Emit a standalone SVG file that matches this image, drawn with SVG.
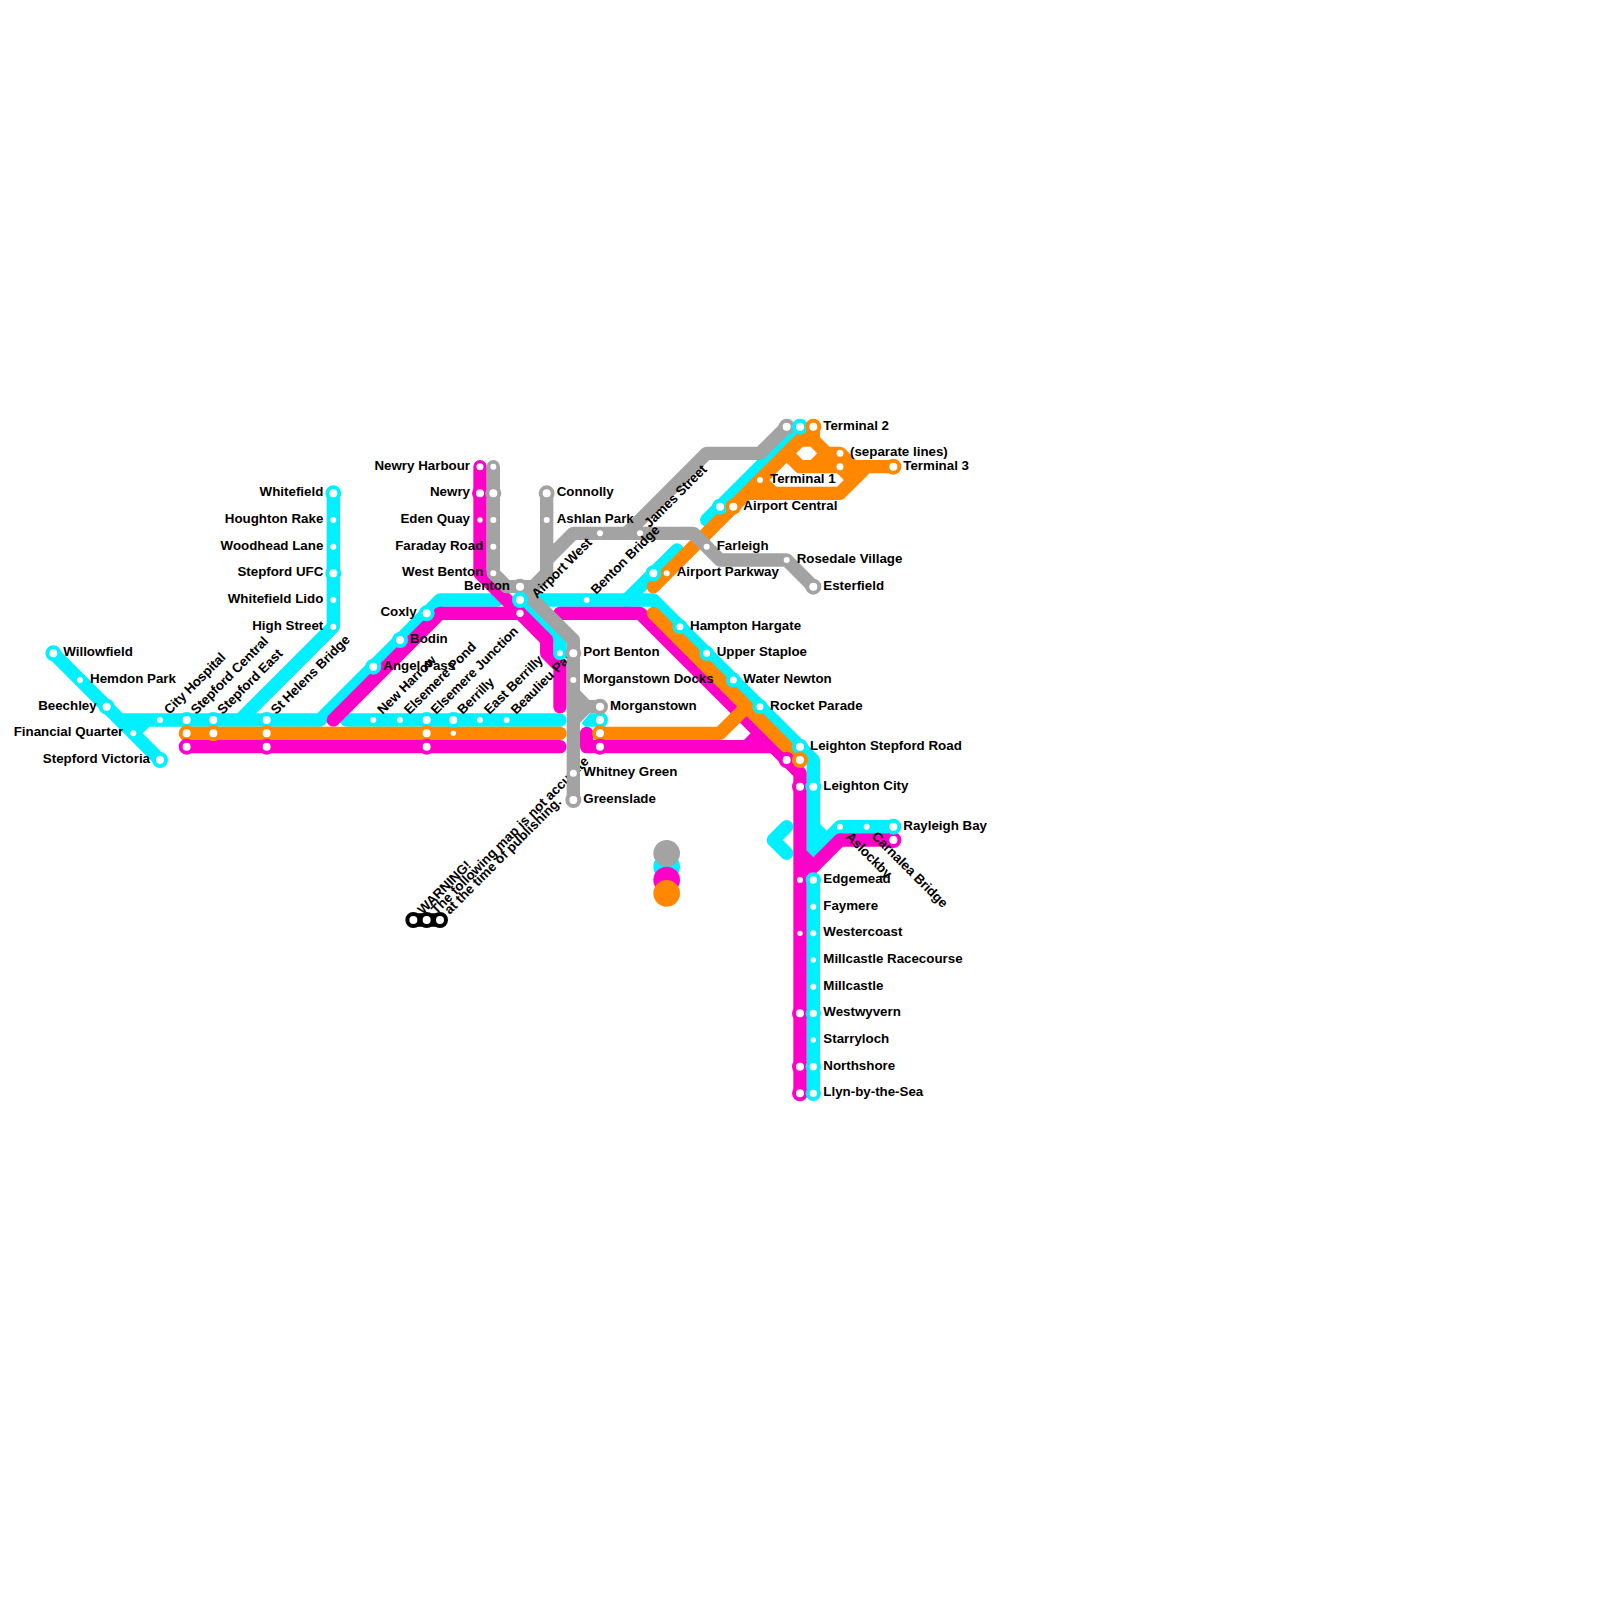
<svg xmlns="http://www.w3.org/2000/svg" width="1600" height="1600" viewBox="0 0 1600 1600">
<style>
text{font-family:"Liberation Sans",Arial,sans-serif;font-weight:700;font-size:13.33px;fill:#000}
text[transform]{letter-spacing:-.08px}
#n-warning text{letter-spacing:.05px}
.e{text-anchor:end}
path{fill:none;stroke-width:13.33;stroke-linecap:round;stroke-linejoin:round}
.C{stroke:#00f0ff}.M{stroke:#ff00c8}.O{stroke:#ff8800}.G{stroke:#a3a3a3}.K{stroke:#000}
circle{fill:#fff;stroke-width:4}
circle.d{stroke:none}
</style>
<rect width="1600" height="1600" fill="#fff"/>
<g id="connectors">
<g id="line-cyan">
<path class="C" d="M53.33 653.33L160 760M133.33 733.33L146.67 720M120 720H320L440 600H497M333.33 493.33V626.67L240 720"/>
<path class="C" d="M346.67 720H560M520 600L560 640V653.33M533.33 600H626.67M626.67 600L677 550M706.67 520L800 426.67"/>
<polygon points="581.7,723 590,713.33 600,713.33 600,726.67 585,726.67" fill="#00f0ff"/>
<path class="C" d="M626.67 600H653.33L813.33 760V853.33L840 826.67H893.33M813.33 826.67L826.67 840M786.67 826.67L773.33 840L786.67 853.33M813.33 880V1093.33"/>
</g>
<g id="line-magenta">
<path class="M" d="M480 466.67V573.33L520 613.33M333.33 720L440 613.33H520L546.67 640V653.33L560 666.67V706.67"/>
<path class="M" d="M186.67 746.67H560M586.67 733.33V746.67H773.33M746.67 746.67L760 733.33M560 613.33H640L786.67 760L800 773.33V1093.33M800 880L840 840H893.33M800 853.33L813.33 866.67"/>
</g>
<g id="line-orange">
<path class="O" d="M186.67 733.33H560M600 733.33H720L746.67 706.67M653.33 613.33L800 760M653.33 586.67L813.33 426.67V440L826.67 453.33H840L853.33 466.67M800 440H813.33M786.67 453.33L800 466.67H893.33M813.33 466.67L826.67 453.33M760 480L773.33 493.33M746.67 493.33H840L866.67 466.67M840 466.67L853.33 480"/>
</g>
<g id="line-grey">
<path class="G" d="M493.33 466.67V573.33L506.67 586.67H533.33L546.67 573.33V493.33M546.67 560L573.33 533.33H693.33L720 560H786.67L813.33 586.67M626.67 533.33L706.67 453.33H760L786.67 426.67M520 586.67L573.33 640"/>
</g>
<g id="line-warning"><path class="K" d="M413.33 920H440"/></g>
</g>
<g id="nodes">
<g id="n-willowfield"><circle class="C" cx="53.33" cy="653.33" r="6"/><text x="63.3" y="656.3">Willowfield</text></g>
<g id="n-hemdon"><circle class="d" cx="80" cy="680" r="3"/><text x="90" y="683">Hemdon Park</text></g>
<g id="n-beechley"><circle class="C" cx="106.67" cy="706.67" r="6"/><text class="e" x="96.7" y="709.7">Beechley</text></g>
<g id="n-financial"><circle class="d" cx="133.33" cy="733.33" r="3"/><text class="e" x="123.3" y="736.3">Financial Quarter</text></g>
<g id="n-victoria"><circle class="C" cx="160" cy="760" r="6"/><text class="e" x="150" y="763">Stepford Victoria</text></g>
<g id="n-city"><circle class="d" cx="160" cy="720" r="3"/><text transform="translate(169.5 715) rotate(-45)">City Hospital</text></g>
<g id="n-central"><circle class="C" cx="186.67" cy="720" r="6"/><circle class="O" cx="186.67" cy="733.33" r="6"/><circle class="M" cx="186.67" cy="746.67" r="6"/><text transform="translate(196.17 715) rotate(-45)">Stepford Central</text></g>
<g id="n-east"><circle class="C" cx="213.33" cy="720" r="6"/><circle class="O" cx="213.33" cy="733.33" r="6"/><text transform="translate(222.83 715) rotate(-45)">Stepford East</text></g>
<g id="n-sthelens"><circle class="C" cx="266.67" cy="720" r="6"/><circle class="O" cx="266.67" cy="733.33" r="6"/><circle class="M" cx="266.67" cy="746.67" r="6"/><text transform="translate(276.17 715) rotate(-45)">St Helens Bridge</text></g>
<g id="n-whitefield"><circle class="C" cx="333.33" cy="493.33" r="6"/><text class="e" x="323.3" y="496.3">Whitefield</text></g>
<g id="n-houghton"><circle class="d" cx="333.33" cy="520" r="3"/><text class="e" x="323.3" y="523">Houghton Rake</text></g>
<g id="n-woodhead"><circle class="d" cx="333.33" cy="546.67" r="3"/><text class="e" x="323.3" y="549.7">Woodhead Lane</text></g>
<g id="n-ufc"><circle class="C" cx="333.33" cy="573.33" r="6"/><text class="e" x="323.3" y="576.3">Stepford UFC</text></g>
<g id="n-lido"><circle class="d" cx="333.33" cy="600" r="3"/><text class="e" x="323.3" y="603">Whitefield Lido</text></g>
<g id="n-high"><circle class="d" cx="333.33" cy="626.67" r="3"/><text class="e" x="323.3" y="629.7">High Street</text></g>
<g id="n-coxly"><circle class="C" cx="426.67" cy="613.33" r="6"/><text class="e" x="416.7" y="616.3">Coxly</text></g>
<g id="n-bodin"><circle class="C" cx="400" cy="640" r="6"/><text x="410" y="643">Bodin</text></g>
<g id="n-angel"><circle class="C" cx="373.33" cy="666.67" r="6"/><text x="383.3" y="669.7">Angel Pass</text></g>
<g id="n-newharrow"><circle class="d" cx="373.33" cy="720" r="3"/><text transform="translate(382.83 715) rotate(-45)">New Harrow</text></g>
<g id="n-pond"><circle class="d" cx="400" cy="720" r="3"/><text transform="translate(409.5 715) rotate(-45)">Elsemere Pond</text></g>
<g id="n-junction"><circle class="C" cx="426.67" cy="720" r="6"/><circle class="O" cx="426.67" cy="733.33" r="6"/><circle class="M" cx="426.67" cy="746.67" r="6"/><text transform="translate(436.17 715) rotate(-45)">Elsemere Junction</text></g>
<g id="n-berrilly"><circle class="C" cx="453.33" cy="720" r="6"/><circle class="d" cx="453.33" cy="733.33" r="2.7"/><text transform="translate(462.83 715) rotate(-45)">Berrilly</text></g>
<g id="n-eastberrilly"><circle class="d" cx="480" cy="720" r="3"/><text transform="translate(489.5 715) rotate(-45)">East Berrilly</text></g>
<g id="n-beaulieu"><circle class="d" cx="506.67" cy="720" r="3"/><text transform="translate(516.17 715) rotate(-45)">Beaulieu Park</text></g>
<g id="n-newryharbour"><circle class="d" cx="480" cy="466.67" r="3.5"/><circle class="d" cx="493.33" cy="466.67" r="3"/><text class="e" x="470" y="469.7">Newry Harbour</text></g>
<g id="n-newry"><circle class="M" cx="480" cy="493.33" r="6"/><circle class="G" cx="493.33" cy="493.33" r="6"/><text class="e" x="470" y="496.3">Newry</text></g>
<g id="n-eden"><circle class="d" cx="480" cy="520" r="2.7"/><circle class="d" cx="493.33" cy="520" r="3"/><text class="e" x="470" y="523">Eden Quay</text></g>
<g id="n-faraday"><circle class="d" cx="493.33" cy="546.67" r="3"/><text class="e" x="483.3" y="549.7">Faraday Road</text></g>
<g id="n-westbenton"><circle class="d" cx="493.33" cy="573.33" r="3"/><text class="e" x="483.3" y="576.3">West Benton</text></g>
<g id="n-benton"><circle class="G" cx="520" cy="586.67" r="6"/><text class="e" x="510" y="589.7">Benton</text></g>
<g id="n-airportwest"><circle class="C" cx="520" cy="600" r="6"/><circle class="d" cx="520" cy="613.33" r="3.7"/><text transform="translate(537 599) rotate(-45)">Airport West</text></g>
<g id="n-connolly"><circle class="G" cx="546.67" cy="493.33" r="6"/><text x="556.7" y="496.3">Connolly</text></g>
<g id="n-ashlan"><circle class="d" cx="546.67" cy="520" r="3"/><text x="556.7" y="523">Ashlan Park</text></g>
<g id="n-grey600"><circle class="d" cx="600" cy="533.33" r="3"/></g>
<g id="n-james"><circle class="d" cx="640" cy="533.33" r="3"/><text transform="translate(649.5 528.3) rotate(-45)">James Street</text></g>
<g id="n-bentonbridge"><circle class="d" cx="586.67" cy="600" r="3"/><text transform="translate(596.17 595) rotate(-45)">Benton Bridge</text></g>
<g id="n-farleigh"><circle class="d" cx="706.67" cy="546.67" r="3"/><text x="716.7" y="549.7">Farleigh</text></g>
<g id="n-rosedale"><circle class="d" cx="786.67" cy="560" r="3"/><text x="796.7" y="563">Rosedale Village</text></g>
<g id="n-esterfield"><circle class="G" cx="813.33" cy="586.67" r="6"/><text x="823.3" y="589.7">Esterfield</text></g>
<g id="n-airportparkway"><circle class="C" cx="653.33" cy="573.33" r="6"/><circle class="d" cx="666.67" cy="573.33" r="3"/><text x="676.7" y="576.3">Airport Parkway</text></g>
<g id="n-airportcentral"><circle class="C" cx="720" cy="506.67" r="6"/><circle class="O" cx="733.33" cy="506.67" r="6"/><text x="743.3" y="509.7">Airport Central</text></g>
<g id="n-terminal1"><circle class="d" cx="760" cy="480" r="3"/><text x="770" y="483">Terminal 1</text></g>
<g id="n-terminal2"><circle class="G" cx="786.67" cy="426.67" r="6"/><circle class="C" cx="800" cy="426.67" r="6"/><circle class="O" cx="813.33" cy="426.67" r="6"/><text x="823.3" y="429.7">Terminal 2</text></g>
<g id="n-separate"><circle class="d" cx="840" cy="453.33" r="3.5"/><circle class="d" cx="840" cy="466.67" r="3.5"/><text x="850" y="456.3">(separate lines)</text></g>
<g id="n-terminal3"><circle class="O" cx="893.33" cy="466.67" r="6"/><text x="903.3" y="469.7">Terminal 3</text></g>
<g id="n-hampton"><circle class="C" cx="680" cy="626.67" r="5.5"/><text x="690" y="629.7">Hampton Hargate</text></g>
<g id="n-staploe"><circle class="C" cx="706.67" cy="653.33" r="5.5"/><text x="716.7" y="656.3">Upper Staploe</text></g>
<g id="n-newton"><circle class="C" cx="733.33" cy="680" r="5.5"/><text x="743.3" y="683">Water Newton</text></g>
<g id="n-rocket"><circle class="C" cx="760" cy="706.67" r="5.5"/><text x="770" y="709.7">Rocket Parade</text></g>
<g id="n-leightonsr"><circle class="M" cx="786.67" cy="760" r="6"/><circle class="C" cx="800" cy="746.67" r="6"/><circle class="O" cx="800" cy="760" r="6"/><text x="810" y="749.7">Leighton Stepford Road</text></g>
<g id="n-leightoncity"><circle class="M" cx="800" cy="786.67" r="6"/><circle class="C" cx="813.33" cy="786.67" r="6"/><text x="823.3" y="789.7">Leighton City</text></g>
<g id="n-asl"><circle class="d" cx="840" cy="826.67" r="3"/><text transform="translate(845 837.5) rotate(45)">Aslockby</text></g>
<g id="n-carnalea"><circle class="d" cx="866.67" cy="826.67" r="3"/><circle class="M" cx="893.33" cy="840" r="6"/><text transform="translate(871 837) rotate(45)">Carnalea Bridge</text></g>
<g id="n-rayleigh"><circle class="C" cx="893.33" cy="826.67" r="6"/><text x="903.3" y="829.7">Rayleigh Bay</text></g>
<g id="n-edgemead"><circle class="d" cx="800" cy="880" r="3"/><circle class="C" cx="813.33" cy="880" r="5.7"/><text x="823.3" y="883">Edgemead</text></g>
<g id="n-faymere"><circle class="d" cx="813.33" cy="906.67" r="3"/><text x="823.3" y="909.7">Faymere</text></g>
<g id="n-westercoast"><circle class="d" cx="800" cy="933.33" r="2.7"/><circle class="d" cx="813.33" cy="933.33" r="3"/><text x="823.3" y="936.3">Westercoast</text></g>
<g id="n-racecourse"><circle class="d" cx="813.33" cy="960" r="2.7"/><text x="823.3" y="963">Millcastle Racecourse</text></g>
<g id="n-millcastle"><circle class="d" cx="813.33" cy="986.67" r="3"/><text x="823.3" y="989.7">Millcastle</text></g>
<g id="n-westwyvern"><circle class="M" cx="800" cy="1013.33" r="6"/><circle class="C" cx="813.33" cy="1013.33" r="5.7"/><text x="823.3" y="1016.3">Westwyvern</text></g>
<g id="n-starryloch"><circle class="d" cx="813.33" cy="1040" r="2.7"/><text x="823.3" y="1043">Starryloch</text></g>
<g id="n-northshore"><circle class="M" cx="800" cy="1066.67" r="6"/><circle class="C" cx="813.33" cy="1066.67" r="5.7"/><text x="823.3" y="1069.7">Northshore</text></g>
<g id="n-llyn"><circle class="M" cx="800" cy="1093.33" r="6"/><circle class="C" cx="813.33" cy="1093.33" r="5.7"/><text x="823.3" y="1096.3">Llyn-by-the-Sea</text></g>
<g id="n-portbenton-cyan"><circle class="C" cx="560" cy="653.33" r="5"/></g>
<g id="n-warning"><circle class="K" cx="413.33" cy="920" r="6"/><circle class="K" cx="426.67" cy="920" r="6"/><circle class="K" cx="440" cy="920" r="6"/><text transform="translate(423 915) rotate(-45)">WARNING!</text><text transform="translate(436.4 915) rotate(-45)">The following map is not accurate</text><text transform="translate(449.7 915) rotate(-45)">at the time of publishing.</text></g>
</g>
<g id="connectors-top">
<path class="G" d="M573.33 640V800M573.33 693.33L586.67 706.67H600M573.33 720L586.67 706.67"/>
</g>
<g id="nodes-top">
<g id="n-morganstown-cyan"><circle class="C" cx="600" cy="720" r="6"/><circle class="O" cx="600" cy="733.33" r="6"/><circle class="M" cx="600" cy="746.67" r="6"/></g>
<g id="n-portbenton"><circle class="G" cx="573.33" cy="653.33" r="6"/><text x="583.3" y="656.3">Port Benton</text></g>
<g id="n-docks"><circle class="d" cx="573.33" cy="680" r="3"/><text x="583.3" y="683">Morganstown Docks</text></g>
<g id="n-morganstown"><circle class="G" cx="600" cy="706.67" r="6"/><text x="610" y="709.7">Morganstown</text></g>
<g id="n-whitney"><circle class="d" cx="573.33" cy="773.33" r="3.5"/><text x="583.3" y="776.3">Whitney Green</text></g>
<g id="n-greenslade"><circle class="G" cx="573.33" cy="800" r="6"/><text x="583.3" y="803">Greenslade</text></g>
</g>
<g id="legend">
<circle cx="666.67" cy="866.67" r="13.33" style="fill:#00f0ff;stroke:none"/>
<circle cx="666.67" cy="853.33" r="13.33" style="fill:#a3a3a3;stroke:none"/>
<circle cx="666.67" cy="880" r="13.33" style="fill:#ff00c8;stroke:none"/>
<circle cx="666.67" cy="893.33" r="13.33" style="fill:#ff8800;stroke:none"/>
</g>
</svg>
